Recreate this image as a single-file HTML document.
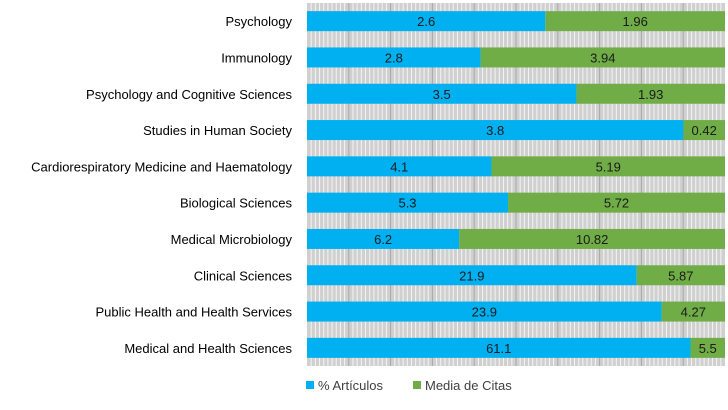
<!DOCTYPE html>
<html><head><meta charset="utf-8"><style>
body{margin:0;background:#fff;width:728px;height:405px;overflow:hidden;font-family:"Liberation Sans",sans-serif}
</style></head><body>
<svg id="c" width="728" height="405"></svg>
<script>
const categories=["Psychology","Immunology","Psychology and Cognitive Sciences","Studies in Human Society","Cardiorespiratory Medicine and Haematology","Biological Sciences","Medical Microbiology","Clinical Sciences","Public Health and Health Services","Medical and Health Sciences"];
const articulos=[2.6,2.8,3.5,3.8,4.1,5.3,6.2,21.9,23.9,61.1];
const citas=[1.96,3.94,1.93,0.42,5.19,5.72,10.82,5.87,4.27,5.5];
const citasLabels=["1.96","3.94","1.93","0.42","5.19","5.72","10.82","5.87","4.27","5.5"];

const svg=document.getElementById('c');
const NS='http://www.w3.org/2000/svg';
const X0=307,X1=725,Y0=3,Y1=366;
const x=f=>X0+f*(X1-X0);
const rowH=(Y1-Y0)/categories.length;
const yc=i=>Y0+rowH*(i+0.5);
function mk(t,a,p){const e=document.createElementNS(NS,t);for(const k in a)e.setAttribute(k,a[k]);(p||svg).appendChild(e);return e;}
const bg=mk('rect',{x:X0,y:Y0,width:X1-X0,height:Y1-Y0,fill:'#d0d0d0'});


for(let p=1;p<100;p++){
  const l=mk('line',{x1:x(p/100),x2:x(p/100),y1:Y0,y2:Y1,stroke:p%10==0?'#a8a8a8':'#f4f4f4','stroke-width':1});
  
  
}
categories.forEach((c,i)=>{
  const tot=articulos[i]+citas[i],fa=articulos[i]/tot;
  const y=yc(i),h=20;
  const b1=mk('rect',{x:X0,y:y-h/2,width:x(fa)-X0,height:h,fill:'#00b0f0'});
  
  
  const b2=mk('rect',{x:x(fa),y:y-h/2,width:X1-x(fa),height:h,fill:'#70ad47'});
  
  
  const t1=mk('text',{x:(X0+x(fa))/2,y:y+5,'text-anchor':'middle','font-size':13,fill:'#1a1a1a'});
  t1.textContent=String(articulos[i]);
  
  
  const t2=mk('text',{x:(x(fa)+X1)/2,y:y+5,'text-anchor':'middle','font-size':13,fill:'#1a1a1a'});
  t2.textContent=citasLabels[i];
  
  
  const lb=mk('text',{x:292,y:y+5,'text-anchor':'end','font-size':13,fill:'#000'});
  lb.textContent=c;
  
  
});
const g=mk('g',{});


const s1=mk('rect',{x:306,y:381,width:8,height:8,fill:'#00b0f0'},g);


const l1=mk('text',{x:318,y:390,'font-size':13,fill:'#404040'},g);l1.textContent='% Artículos';


const s2=mk('rect',{x:413,y:381,width:8,height:8,fill:'#70ad47'},g);


const l2=mk('text',{x:425,y:390,'font-size':13,fill:'#404040'},g);l2.textContent='Media de Citas';


</script>
</body></html>
